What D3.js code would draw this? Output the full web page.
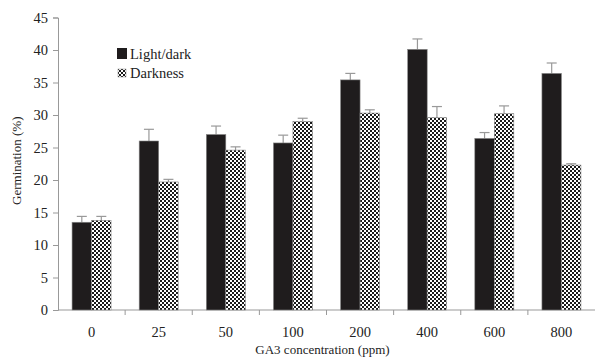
<!DOCTYPE html>
<html>
<head>
<meta charset="utf-8">
<script src="https://cdn.jsdelivr.net/npm/d3@7"></script>
<style>
  body { margin: 0; background: #fff; }
  text { font-family: "Liberation Serif", "Times New Roman", serif; fill: #222; }
  .tickLb { font-size: 14.5px; }
  .axisLb { font-size: 13px; }
</style>
</head>
<body>
<div id="main"></div>
<script>
// data
var concentrations = ["0", "25", "50", "100", "200", "400", "600", "800"];
var seriesNames = ["Light/dark", "Darkness"];
var lightDark = [13.5, 26.0, 27.0, 25.7, 35.4, 40.1, 26.4, 36.4];
var lightDarkErr = [0.9, 1.8, 1.3, 1.2, 1.0, 1.6, 0.9, 1.6];
var darkness = [13.8, 19.7, 24.6, 29.0, 30.3, 29.6, 30.2, 22.3];
var darknessErr = [0.6, 0.4, 0.5, 0.5, 0.5, 1.7, 1.2, 0.2];
var yTicks = [0, 5, 10, 15, 20, 25, 30, 35, 40, 45];

var ctx = { w: 595, h: 360, left: 58, right: 595, top: 17.5, bottom: 310 };

var svg = d3.select("#main").append("svg")
    .attr("width", ctx.w).attr("height", ctx.h);

// checkered fill for the Darkness series
var defs = svg.append("defs");
var pat = defs.append("pattern").attr("id", "checker")
    .attr("patternUnits", "userSpaceOnUse")
    .attr("width", 4).attr("height", 4);
pat.append("rect").attr("width", 4).attr("height", 4).attr("fill", "#fff");
pat.append("rect").attr("width", 2).attr("height", 2).attr("fill", "#1a1a1a");
pat.append("rect").attr("x", 2).attr("y", 2).attr("width", 2).attr("height", 2).attr("fill", "#1a1a1a");

var x = d3.scaleBand().domain(concentrations)
    .range([ctx.left, ctx.right]).paddingInner(0).paddingOuter(0);
var y = d3.scaleLinear().domain([0, 45]).range([ctx.bottom, ctx.top]);
var barW = 19.5;

// y axis
var yAxis = svg.append("g").attr("transform", `translate(${ctx.left},0)`)
    .call(d3.axisLeft(y).tickValues(yTicks).tickSize(5).tickPadding(5));
yAxis.select(".domain").attr("stroke", "#999");
yAxis.selectAll(".tick line").attr("stroke", "#999");
yAxis.selectAll("text").attr("class", "tickLb").attr("fill", "#222");

// x axis: ticks between categories
var xAxisG = svg.append("g").attr("transform", `translate(0,${ctx.bottom})`);
xAxisG.append("line").attr("x1", ctx.left).attr("x2", ctx.right)
    .attr("stroke", "#999");
concentrations.forEach(function(c, i) {
    if (i > 0) {
        xAxisG.append("line")
            .attr("x1", x(c)).attr("x2", x(c)).attr("y1", 0).attr("y2", 5)
            .attr("stroke", "#999");
    }
    xAxisG.append("text")
        .attr("class", "tickLb")
        .attr("x", x(c) + x.bandwidth() / 2).attr("y", 26.5)
        .attr("text-anchor", "middle")
        .text(c);
});

// bars
var rootG = svg.append("g");
concentrations.forEach(function(c, i) {
    var cx = x(c) + x.bandwidth() / 2;
    // error bars (upper only)
    [[cx - barW / 2, lightDark[i], lightDarkErr[i]], [cx + barW / 2, darkness[i], darknessErr[i]]]
        .forEach(function(e) {
            rootG.append("line")
                .attr("x1", e[0]).attr("x2", e[0])
                .attr("y1", y(e[1])).attr("y2", y(e[1] + e[2]))
                .attr("stroke", "#999").attr("stroke-width", 1.2);
            rootG.append("line")
                .attr("x1", e[0] - 5).attr("x2", e[0] + 5)
                .attr("y1", y(e[1] + e[2])).attr("y2", y(e[1] + e[2]))
                .attr("stroke", "#999").attr("stroke-width", 1.2);
        });
    rootG.append("rect")
        .attr("x", cx - barW).attr("y", y(lightDark[i]))
        .attr("width", barW).attr("height", y(0) - y(lightDark[i]))
        .attr("fill", "#1f1c1d").attr("stroke", "#888").attr("stroke-width", 0.6);
    rootG.append("rect")
        .attr("x", cx).attr("y", y(darkness[i]))
        .attr("width", barW).attr("height", y(0) - y(darkness[i]))
        .attr("fill", "url(#checker)").attr("stroke", "#888").attr("stroke-width", 0.6);
});

// legend
var leg = svg.append("g").attr("transform", "translate(117,48)");
leg.append("rect").attr("width", 10).attr("height", 11).attr("fill", "#1f1c1d");
leg.append("text").attr("x", 13).attr("y", 10.5).attr("class", "tickLb").text(seriesNames[0]);
leg.append("rect").attr("x", 1).attr("y", 21).attr("width", 8).attr("height", 8)
    .attr("fill", "url(#checker)").attr("stroke", "#888").attr("stroke-width", 0.5);
leg.append("text").attr("x", 13).attr("y", 29.5).attr("class", "tickLb").text(seriesNames[1]);

// axis labels
svg.append("text").attr("class", "axisLb")
    .attr("x", (ctx.left + ctx.right) / 2 - 4).attr("y", 354)
    .attr("text-anchor", "middle")
    .text("GA3 concentration (ppm)");
svg.append("text").attr("class", "axisLb")
    .attr("transform", `translate(21,${(ctx.top + ctx.bottom) / 2 - 3}) rotate(-90)`)
    .attr("text-anchor", "middle")
    .text("Germination (%)");
</script>
</body>
</html>
